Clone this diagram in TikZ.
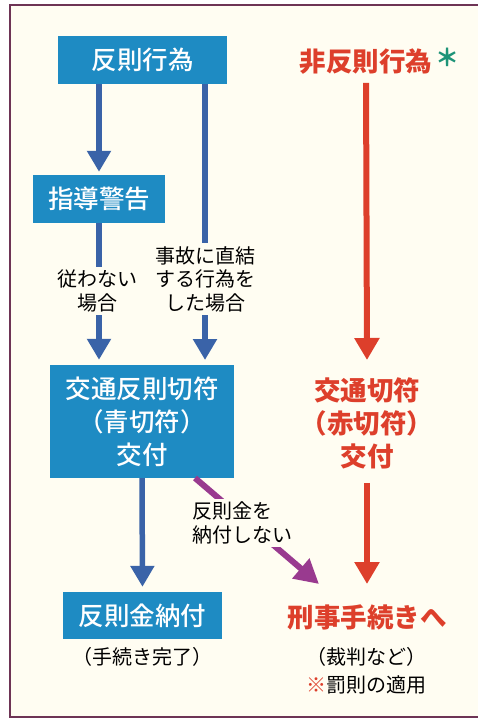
\documentclass[tikz,border=0pt]{standalone}
\usepackage{fontspec}
\setmainfont{Noto Sans CJK JP}
\newfontfamily\mediumjp{Noto Sans CJK JP Medium}
\usetikzlibrary{arrows.meta}
\usetikzlibrary{positioning}
\definecolor{boxblue}{HTML}{1E8BC3}
\definecolor{arrowblue}{HTML}{3A63A8}
\definecolor{redtext}{HTML}{DD3F2B}
\definecolor{finepurple}{HTML}{993A8F}
\definecolor{startteal}{HTML}{1E9478}
\definecolor{paper}{HTML}{FFFDF2}
\definecolor{framecol}{HTML}{6E3455}

\begin{document}
\begin{tikzpicture}[
	x=1pt, y=-1pt,
	BlueBox/.style={fill=boxblue,text=white,font=\fontsize{25.5}{33}\mediumjp,
		inner sep=0pt,align=center},
	BlueArrow/.style={draw=arrowblue,line width=5.5pt,-{Triangle[length=21pt,width=23pt]}},
	RedArrow/.style={draw=redtext,line width=6pt,-{Triangle[length=22pt,width=24pt]}},
	FineArrow/.style={draw=finepurple,line width=6pt,-{Triangle[length=24pt,width=25pt]}},
	RedText/.style={text=redtext,font=\fontsize{26.5}{33}\bfseries,align=center,inner sep=0pt},
	Label/.style={fill=paper,font=\fontsize{20}{23.5}\selectfont,align=center,inner sep=3pt},
	Note/.style={font=\fontsize{20}{28}\selectfont,align=center,inner sep=0pt}
	]
	\useasboundingbox (0,0) rectangle (478,719);
	\fill[white] (0,0) rectangle (478,719);
	\filldraw[fill=paper,draw=framecol,line width=1.5pt] (10,5) rectangle (490,717);
	
	% boxes on the left
	\node[BlueBox,minimum width=169pt,minimum height=48pt] (act) at (142.5,60) {反則行為};
	\node[BlueBox,minimum width=132pt,minimum height=48pt] (warn) at (99,199) {指導警告};
	\node[BlueBox,minimum width=184pt,minimum height=113pt] (ticket) at (142,421.5)
		{交通反則切符\\（青切符）\\交付};
	\node[BlueBox,minimum width=159pt,minimum height=47pt] (pay) at (142.5,615.5) {反則金納付};
	\node[Note] (done) at (142,657) {（手続き完了）};
	
	% the red side
	\node[RedText] (nonact) at (366,62) {非反則行為};
	\node[text=startteal,font=\fontsize{24}{24}\bfseries,inner sep=0pt] (star) at (447,57) {＊};
	\node[RedText] (redticket) at (367,423) {交通切符\\（赤切符）\\交付};
	\node[RedText] (crim) at (367,617) {刑事手続きへ};
	\node[Note] (trial) at (366,671) {（裁判など）\\{\color{redtext}※}罰則の適用};
	
	% free ends
	\coordinate (accstart) at (205,84);
	\coordinate (accend) at (205,360);
	\coordinate (finestart) at (195,478);
	\coordinate (fineend) at (319,584);
	
	\draw[BlueArrow,shorten >=3pt] (act.south -| warn) -- (warn.north);
	\draw[BlueArrow] (accstart) -- (accend);
	\draw[BlueArrow,shorten >=5pt] (warn.south) -- (ticket.north -| warn);
	\draw[BlueArrow,shorten >=5pt] (ticket.south) -- (pay.north);
	\draw[FineArrow] (finestart) -- (fineend);
	\draw[RedArrow,shorten <=8pt] (nonact.south) -- (redticket.north |- accend);
	\draw[RedArrow,shorten <=14pt] (redticket.south) -- (redticket.south |- fineend);
	
	% labels over the arrows
	\node[Label] (lblwarn) at (97,291) {従わない\\場合};
	\node[Label] (lblacc) at (205,279) {事故に直結\\する行為を\\した場合};
	\node[Label,align=left,anchor=west] (lblfine) at (189,523) {反則金を\\納付しない};
\end{tikzpicture}
\end{document}
